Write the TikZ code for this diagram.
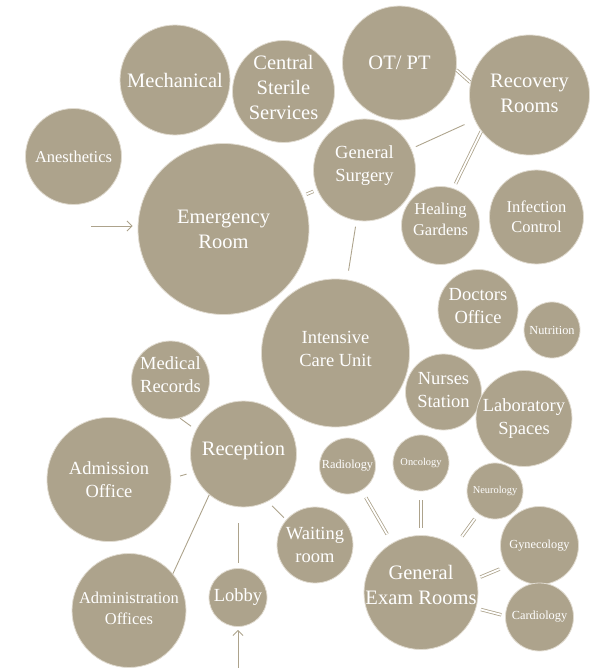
\documentclass[tikz,border=0pt]{standalone}
\usepackage{fontspec}
\setmainfont{Liberation Serif}
\usetikzlibrary{arrows.meta}
\definecolor{roomc}{RGB}{173,163,140}
\definecolor{ringc}{RGB}{224,219,208}
\begin{document}
\begin{tikzpicture}[x=1pt, y=-1pt,
		room/.style={circle, draw=ringc, line width=0.8pt, fill=roomc, text=white, align=center, inner sep=0pt, minimum size=#1},
		hugetext/.style={font=\fontsize{20.5}{25}\selectfont},
		bigtext/.style={font=\fontsize{18.5}{23}\selectfont},
		midtext/.style={font=\fontsize{16.5}{20.5}\selectfont},
		smalltext/.style={font=\fontsize{12.3}{15}\selectfont},
		tinytext/.style={font=\fontsize{10.4}{12.5}\selectfont},
		link/.style={draw=roomc, line width=0.9pt},
		dbl/.style={draw=roomc, line width=0.8pt, double=white, double distance=1.8pt},
		>={Straight Barb[length=5pt,width=10pt]}]
			\useasboundingbox (0,0) rectangle (589,668);
			% upper group
			\node	(anes) at (73.5,156.5) [room=96, midtext] {Anesthetics};
			\node	(mech) at (175,80) [room=110, hugetext] {Mechanical};
			\node	(css) at (283.5,91.5) [room=102, hugetext, text depth=8pt] {Central\\Sterile\\Services};
			\node	(otpt) at (399.5,63) [room=114, hugetext] {OT/ PT};
			\node	(rec) at (529.5,95) [room=120, hugetext, text depth=4pt] {Recovery\\Rooms};
			\node	(er) at (223.5,229) [room=171, hugetext] {Emergency\\Room};
			\node	(gs) at (364.5,170) [room=102, bigtext, text depth=12pt] {General\\Surgery};
			\node	(hg) at (440.5,225.5) [room=78, midtext, text depth=12pt] {Healing\\Gardens};
			\node	(ic) at (536.5,217) [room=94, midtext] {Infection\\Control};
			% middle group
			\node	(doc) at (478,309.5) [room=80, bigtext, text depth=8pt] {Doctors\\Office};
			\node	(nut) at (552,330) [room=56, smalltext] {Nutrition};
			\node	(icu) at (335.5,353) [room=148, bigtext, text depth=8pt] {Intensive\\Care Unit};
			\node	(ns) at (443.5,392) [room=76, bigtext, text depth=4pt] {Nurses\\Station};
			\node	(lab) at (524,418.5) [room=96, bigtext] {Laboratory\\Spaces};
			% exam group
			\node	(rad) at (347.5,466) [room=56, smalltext] {Radiology};
			\node	(onc) at (421,463) [room=56, tinytext] {Oncology};
			\node	(neu) at (495,491) [room=56, tinytext] {Neurology};
			\node	(gyn) at (539.5,545.5) [room=78, smalltext] {Gynecology};
			\node	(card) at (539.5,617) [room=68, smalltext] {Cardiology};
			\node	(ger) at (421,592.5) [room=114, hugetext, text depth=15pt, inner sep=-8pt] {General\\Exam Rooms};
			% front group
			\node	(wait) at (315,545) [room=76, bigtext] {Waiting\\room};
			\node	(mr) at (170.5,380) [room=78, bigtext, text depth=11pt, inner sep=-2pt] {Medical\\Records};
			\node	(recp) at (243.5,454) [room=106, hugetext, text depth=10.5pt] {Reception};
			\node	(adm) at (109,479.5) [room=124, bigtext] {Admission\\Office};
			\node	(aoff) at (129,610.5) [room=114, midtext, text depth=4pt] {Administration\\Offices};
			\node	(lobby) at (238,597.5) [room=58, bigtext] {Lobby};
			\coordinate (erin) at (91,226);
			\coordinate (lobbyin) at (238,668);
			\draw 
			(er) edge[dbl, shorten <=4pt, shorten >=4pt] (gs)
			(otpt.-7) edge[dbl] (rec.168)
			(gs) edge[link, shorten <=5pt, shorten >=11pt] (rec)
			(rec.217) edge[dbl, shorten >=5pt] (hg.71)
			(gs) edge[link, shorten <=6pt, shorten >=9pt] (icu)
			(mr.284) edge[link, shorten >=6pt] (recp.153)
			(adm.1) edge[link, shorten <=9pt, shorten >=7pt] (recp.200)
			(aoff.40) edge[link] (recp.230)
			(lobby.north) edge[link, shorten <=5pt, shorten >=16pt] (lobby |- recp.south)
			(recp.297) edge[link, shorten <=6pt, shorten >=3pt] (wait.139)
			(rad) edge[dbl, shorten <=8pt, shorten >=10pt] (ger)
			(onc) edge[dbl, shorten <=9pt, shorten >=7pt] (ger)
			(neu) edge[dbl, shorten <=6pt, shorten >=12pt] (ger)
			(gyn.212) edge[dbl, shorten <=7pt, shorten >=4pt] (ger.14)
			(card.178) edge[dbl, shorten <=4pt, shorten >=5pt] (ger.-16)
			(erin) edge[->, link, shorten >=5pt] (er.west |- erin)
			(lobbyin) edge[->, link, shorten >=3pt] (lobby)
			;
		\end{tikzpicture}
\end{document}
